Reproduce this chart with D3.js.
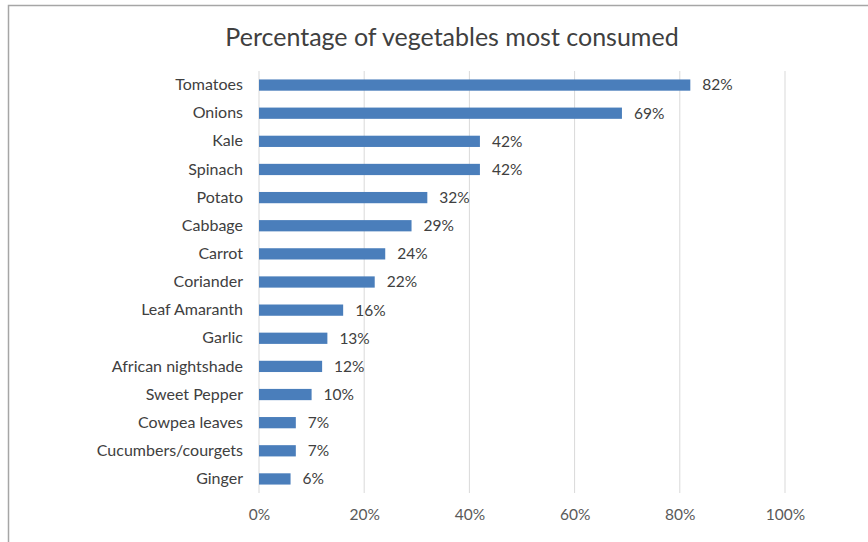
<!DOCTYPE html>
<html>
<head>
<meta charset="utf-8">
<script src="https://cdn.jsdelivr.net/npm/d3@7"></script>
<style>
  body { margin: 0; background: #fff; }
  svg { display: block; font-family: Lato, "Open Sans", sans-serif; }
</style>
</head>
<body>
<svg id="canvas" width="868" height="542"></svg>
<script>
// Data
var vegetables = ['Tomatoes', 'Onions', 'Kale', 'Spinach', 'Potato', 'Cabbage', 'Carrot',
  'Coriander', 'Leaf Amaranth', 'Garlic', 'African nightshade', 'Sweet Pepper',
  'Cowpea leaves', 'Cucumbers/courgets', 'Ginger'];
var percents = [82, 69, 42, 42, 32, 29, 24, 22, 16, 13, 12, 10, 7, 7, 6];
var tickValues = [0, 20, 40, 60, 80, 100];

var svg = d3.select('#canvas');

// chart frame
svg.append('rect')
  .attr('x', 8.5).attr('y', 5.5)
  .attr('width', 880).attr('height', 560)
  .attr('fill', 'none')
  .attr('stroke', '#a6a6a6')
  .attr('stroke-width', 1.5);

// plot area
var plot = { left: 259, right: 785, top: 71, bottom: 493 };

var x = d3.scaleLinear().domain([0, 100]).range([plot.left, plot.right]);
var y = d3.scaleBand().domain(vegetables).range([plot.top, plot.bottom]).paddingInner(0.6).paddingOuter(0.3);

// title
svg.append('text')
  .attr('x', 452).attr('y', 46)
  .attr('text-anchor', 'middle')
  .attr('font-size', 25)
  .attr('fill', '#404040')
  .text('Percentage of vegetables most consumed');

// gridlines
svg.append('g')
  .selectAll('line')
  .data(tickValues)
  .enter()
  .append('line')
  .attr('x1', function (d) { return x(d); })
  .attr('x2', function (d) { return x(d); })
  .attr('y1', plot.top)
  .attr('y2', plot.bottom)
  .attr('stroke', '#d9d9d9')
  .attr('stroke-width', 1);

// x axis
var xAxis = d3.axisBottom(x)
  .tickValues(tickValues)
  .tickSize(0)
  .tickPadding(16)
  .tickFormat(function (d) { return d + '%'; });

var gx = svg.append('g')
  .attr('transform', 'translate(0,' + plot.bottom + ')')
  .call(xAxis);
gx.select('.domain').remove();
gx.selectAll('text').attr('font-size', 15.5).attr('fill', '#595959').attr('font-family', 'Lato, "Open Sans", sans-serif');

// y axis
var yAxis = d3.axisLeft(y).tickSize(0).tickPadding(16);
var gy = svg.append('g')
  .attr('transform', 'translate(' + plot.left + ',0)')
  .call(yAxis);
gy.select('.domain').remove();
gy.selectAll('text').attr('font-size', 16).attr('fill', '#404040').attr('font-family', 'Lato, "Open Sans", sans-serif');

// bars
var rows = vegetables.map(function (v, i) { return { name: v, value: percents[i] }; });

svg.append('g')
  .selectAll('rect')
  .data(rows)
  .enter()
  .append('rect')
  .attr('x', x(0))
  .attr('y', function (d) { return y(d.name); })
  .attr('width', function (d) { return x(d.value) - x(0); })
  .attr('height', y.bandwidth())
  .attr('fill', '#4a7ebb');

// value labels
svg.append('g')
  .selectAll('text')
  .data(rows)
  .enter()
  .append('text')
  .attr('x', function (d) { return x(d.value) + 12; })
  .attr('y', function (d) { return y(d.name) + y.bandwidth() / 2; })
  .attr('dy', '0.35em')
  .attr('font-size', 15.5)
  .attr('fill', '#404040')
  .text(function (d) { return d.value + '%'; });
</script>
</body>
</html>
